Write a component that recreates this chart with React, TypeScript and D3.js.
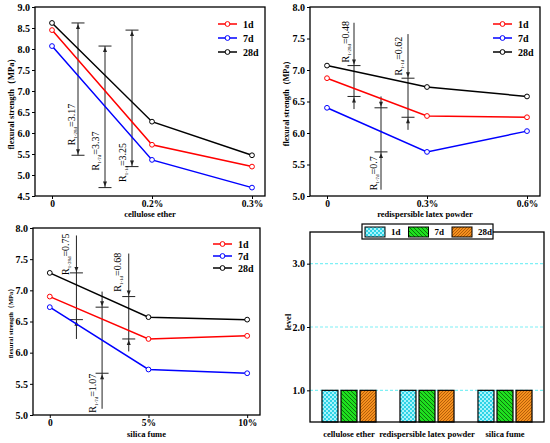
import React, { useEffect, useRef } from "react";
import * as d3 from "d3";

const SERIF = "'Liberation Serif', 'Times New Roman', serif";

const ages = ["1d", "7d", "28d"];
const ageColors = ["#ff0000", "#0000ff", "#000000"];

// cellulose ether panel
const celluloseLabels = ["0", "0.2%", "0.3%"];
const cellulose1d = [8.45, 5.72, 5.2];
const cellulose7d = [8.07, 5.36, 4.7];
const cellulose28d = [8.62, 6.27, 5.47];
const celluloseTicks = [4.5, 5.0, 5.5, 6.0, 6.5, 7.0, 7.5, 8.0, 8.5, 9.0];

// redispersible latex powder panel
const latexLabels = ["0", "0.3%", "0.6%"];
const latex1d = [6.87, 6.27, 6.25];
const latex7d = [6.4, 5.7, 6.03];
const latex28d = [7.07, 6.73, 6.58];

// silica fume panel
const silicaLabels = ["0", "5%", "10%"];
const silica1d = [6.9, 6.22, 6.27];
const silica7d = [6.73, 5.73, 5.67];
const silica28d = [7.28, 6.57, 6.53];

const otherTicks = [5.0, 5.5, 6.0, 6.5, 7.0, 7.5, 8.0];

// range marks: age, position between dosages, extent of the line, label spot
const celluloseRanges = [
  { age: "28d", at: 0.26, ext: [5.47, 8.62], value: "3.17", tx: 0.195, ty: 6.2 },
  { age: "7d", at: 0.53, ext: [4.7, 8.07], value: "3.37", tx: 0.43, ty: 5.57 },
  { age: "1d", at: 0.8, ext: [5.2, 8.45], value: "3.25", tx: 0.7, ty: 5.3 },
];
const latexRanges = [
  { age: "28d", at: 0.27, ext: [6.38, 7.75], value: "0.48", tx: 0.18, ty: 7.45 },
  { age: "7d", at: 0.54, ext: [5.1, 6.58], value: "0.7", tx: 0.46, ty: 5.36 },
  { age: "1d", at: 0.81, ext: [6.05, 7.57], value: "0.62", tx: 0.715, ty: 7.22 },
];
const silicaRanges = [
  { age: "28d", at: 0.27, ext: [6.22, 7.88], value: "0.75", tx: 0.16, ty: 7.58 },
  { age: "7d", at: 0.53, ext: [5.1, 6.98], value: "1.07", tx: 0.43, ty: 5.35 },
  { age: "1d", at: 0.8, ext: [6.02, 7.59], value: "0.68", tx: 0.69, ty: 7.29 },
];

// level bar panel
const levelCategories = ["cellulose ether", "redispersible latex powder", "silica fume"];
const level1d = [1, 1, 1];
const level7d = [1, 1, 1];
const level28d = [1, 1, 1];
const levelTicks = [1.0, 2.0, 3.0];

type Range = { age: string; at: number; ext: number[]; value: string; tx: number; ty: number };

interface LinePanel {
  left: number;
  right: number;
  top: number;
  bottom: number;
  yDomain: [number, number];
  yTicks: number[];
  xLabels: string[];
  series: number[][];
  ranges: Range[];
  arrowsOutside: boolean;
  title: string;
  titleDy: number;
  yLabelX: number;
  yLabelSize: number;
  legTop: number;
  legStep: number;
}

const styleText = (sel: any, size: number, bold = true) =>
  sel
    .attr("font-family", SERIF)
    .attr("font-size", size)
    .attr("font-weight", bold ? "bold" : "normal")
    .attr("fill", "#000");

function drawLinePanel(root: any, p: LinePanel) {
  const g = root.append("g");
  const x = d3.scaleLinear().domain([-0.17, 2.13]).range([p.left, p.right]);
  const y = d3.scaleLinear().domain(p.yDomain).range([p.bottom, p.top]);

  const ya = g
    .append("g")
    .attr("transform", `translate(${p.left},0)`)
    .call(d3.axisLeft(y).tickValues(p.yTicks).tickFormat(d3.format(".1f")).tickSize(3).tickPadding(2));
  ya.select(".domain").remove();
  styleText(ya.selectAll("text"), 10);

  const xa = g
    .append("g")
    .attr("transform", `translate(0,${p.bottom})`)
    .call(
      d3
        .axisBottom(x)
        .tickValues(d3.range(p.xLabels.length))
        .tickFormat((i: any) => p.xLabels[i])
        .tickSize(3)
        .tickPadding(1)
    );
  xa.select(".domain").remove();
  styleText(xa.selectAll("text"), 9.5);

  g.append("rect")
    .attr("x", p.left)
    .attr("y", p.top)
    .attr("width", p.right - p.left)
    .attr("height", p.bottom - p.top)
    .attr("fill", "none")
    .attr("stroke", "#000")
    .attr("stroke-width", 1.3);

  styleText(
    g
      .append("text")
      .attr("x", (p.left + p.right) / 2)
      .attr("y", p.bottom + p.titleDy)
      .attr("text-anchor", "middle")
      .text(p.title),
    8.5
  );

  styleText(
    g
      .append("text")
      .attr("transform", `translate(${p.yLabelX},${(p.top + p.bottom) / 2}) rotate(-90)`)
      .attr("text-anchor", "middle")
      .attr("dy", "0.35em")
      .text("flexural strength（MPa）"),
    p.yLabelSize
  );

  // range marks
  p.ranges.forEach((r) => {
    const vals = p.series[ages.indexOf(r.age)];
    const hi = d3.max(vals) as number;
    const lo = d3.min(vals) as number;
    const cx = x(r.at);
    g.append("line")
      .attr("x1", cx)
      .attr("x2", cx)
      .attr("y1", y(r.ext[1]))
      .attr("y2", y(r.ext[0]))
      .attr("stroke", "#222")
      .attr("stroke-width", 1);
    [hi, lo].forEach((v, k) => {
      const cy = y(v);
      g.append("line")
        .attr("x1", cx - 6.5)
        .attr("x2", cx + 6.5)
        .attr("y1", cy)
        .attr("y2", cy)
        .attr("stroke", "#222")
        .attr("stroke-width", 1);
      // k 0: top cap, 1: bottom cap
      const dir = (k === 0 ? 1 : -1) * (p.arrowsOutside ? -1 : 1);
      const apex = cy + dir * 1;
      const base = cy + dir * 6;
      g.append("path")
        .attr("d", `M${cx},${apex}L${cx - 2},${base}L${cx + 2},${base}Z`)
        .attr("fill", "#222");
    });
    const t = g
      .append("text")
      .attr("transform", `translate(${x(r.tx)},${y(r.ty)}) rotate(-90)`)
      .attr("text-anchor", "middle")
      .attr("dy", "0.35em");
    styleText(t, 10, false);
    t.append("tspan").text("R");
    t.append("tspan").attr("font-size", 5).attr("dy", 2).text(`1-${r.age}`);
    t.append("tspan").attr("dy", -2).text(`=${r.value}`);
  });

  // series
  p.series.forEach((vals, i) => {
    g.append("path")
      .datum(vals)
      .attr("fill", "none")
      .attr("stroke", ageColors[i])
      .attr("stroke-width", 1.5)
      .attr(
        "d",
        d3
          .line<number>()
          .x((_d, j) => x(j))
          .y((d) => y(d))
      );
    g.selectAll(null)
      .data(vals)
      .enter()
      .append("circle")
      .attr("cx", (_d: number, j: number) => x(j))
      .attr("cy", (d: number) => y(d))
      .attr("r", 2.4)
      .attr("fill", "#fff")
      .attr("stroke", ageColors[i])
      .attr("stroke-width", 1);
  });

  // legend
  ages.forEach((a, i) => {
    const ly = p.top + p.legTop + i * p.legStep;
    const lx = p.right - 47;
    g.append("line")
      .attr("x1", lx)
      .attr("x2", lx + 19)
      .attr("y1", ly)
      .attr("y2", ly)
      .attr("stroke", ageColors[i])
      .attr("stroke-width", 1.5);
    g.append("circle")
      .attr("cx", lx + 9.5)
      .attr("cy", ly)
      .attr("r", 2.4)
      .attr("fill", "#fff")
      .attr("stroke", ageColors[i]);
    styleText(
      g
        .append("text")
        .attr("x", lx + 25)
        .attr("y", ly)
        .attr("dy", "0.35em")
        .text(a),
      10
    );
  });
}

function drawLevelPanel(root: any) {
  const left = 310,
    right = 544,
    top = 232,
    bottom = 422;
  const g = root.append("g");
  const defs = root.append("defs");

  const p1 = defs
    .append("pattern")
    .attr("id", "pat1d")
    .attr("patternUnits", "userSpaceOnUse")
    .attr("width", 4)
    .attr("height", 4);
  p1.append("rect").attr("width", 4).attr("height", 4).attr("fill", "#2fd3e6");
  p1.append("rect").attr("width", 2).attr("height", 2).attr("fill", "#a8f4fb");
  p1.append("rect").attr("x", 2).attr("y", 2).attr("width", 2).attr("height", 2).attr("fill", "#a8f4fb");

  const p7 = defs
    .append("pattern")
    .attr("id", "pat7d")
    .attr("patternUnits", "userSpaceOnUse")
    .attr("width", 4)
    .attr("height", 4);
  p7.append("rect").attr("width", 4).attr("height", 4).attr("fill", "#1fe01f");
  p7.append("path").attr("d", "M-1,-1L5,5M-1,3L1,5M3,-1L5,1").attr("stroke", "#0a6a0a").attr("stroke-width", 0.9);

  const p28 = defs
    .append("pattern")
    .attr("id", "pat28d")
    .attr("patternUnits", "userSpaceOnUse")
    .attr("width", 3)
    .attr("height", 3);
  p28.append("rect").attr("width", 3).attr("height", 3).attr("fill", "#f5901f");
  p28.append("path").attr("d", "M-1,4L4,-1M-1,1L1,-1M2,4L4,2").attr("stroke", "#9a4a00").attr("stroke-width", 0.7);

  const fills = ["url(#pat1d)", "url(#pat7d)", "url(#pat28d)"];
  const levels = [level1d, level7d, level28d];

  const x0 = d3.scaleBand<string>().domain(levelCategories).range([left, right]);
  const x1 = d3
    .scaleBand<string>()
    .domain(ages)
    .range([0, x0.bandwidth()])
    .paddingInner(0.16)
    .paddingOuter(0.63);
  const y = d3.scaleLinear().domain([0.5, 3.5]).range([bottom, top]);

  g.selectAll(null)
    .data(levelTicks)
    .enter()
    .append("line")
    .attr("x1", left)
    .attr("x2", right)
    .attr("y1", (d: number) => y(d))
    .attr("y2", (d: number) => y(d))
    .attr("stroke", "#7ff0f5")
    .attr("stroke-width", 1.2)
    .attr("stroke-dasharray", "3,2");

  levelCategories.forEach((c, ci) => {
    ages.forEach((a, ai) => {
      g.append("rect")
        .attr("x", (x0(c) as number) + (x1(a) as number))
        .attr("y", y(levels[ai][ci]))
        .attr("width", x1.bandwidth())
        .attr("height", bottom - y(levels[ai][ci]))
        .attr("fill", fills[ai])
        .attr("stroke", "#000")
        .attr("stroke-width", 1.2);
    });
  });

  const ya = g
    .append("g")
    .attr("transform", `translate(${left},0)`)
    .call(d3.axisLeft(y).tickValues(levelTicks).tickFormat(d3.format(".1f")).tickSize(3).tickPadding(2));
  ya.select(".domain").remove();
  styleText(ya.selectAll("text"), 10);

  const xa = g
    .append("g")
    .attr("transform", `translate(0,${bottom})`)
    .call(d3.axisBottom(x0).tickSize(0).tickPadding(9));
  xa.select(".domain").remove();
  styleText(xa.selectAll("text"), 8.5);

  g.append("rect")
    .attr("x", left)
    .attr("y", top)
    .attr("width", right - left)
    .attr("height", bottom - top)
    .attr("fill", "none")
    .attr("stroke", "#000")
    .attr("stroke-width", 1.3);

  styleText(
    g
      .append("text")
      .attr("transform", `translate(288,322) rotate(-90)`)
      .attr("text-anchor", "middle")
      .attr("dy", "0.35em")
      .text("level"),
    8.5
  );

  // legend
  const lg = g.append("g").attr("transform", "translate(362,224)");
  lg.append("rect")
    .attr("width", 131)
    .attr("height", 15)
    .attr("fill", "#fff")
    .attr("stroke", "#000")
    .attr("stroke-width", 1.2);
  ages.forEach((a, i) => {
    const sx = 3 + i * 43.5;
    lg.append("rect")
      .attr("x", sx)
      .attr("y", 3)
      .attr("width", 20)
      .attr("height", 10)
      .attr("fill", fills[i])
      .attr("stroke", "#000")
      .attr("stroke-width", 1);
    styleText(
      lg
        .append("text")
        .attr("x", sx + 26)
        .attr("y", 8)
        .attr("dy", "0.35em")
        .text(a),
      9
    );
  });
}

const App: React.FC = () => {
  const ref = useRef<SVGSVGElement | null>(null);

  useEffect(() => {
    const svg = d3.select(ref.current);
    svg.selectAll("*").remove();

    drawLinePanel(svg, {
      left: 35,
      right: 265,
      top: 7,
      bottom: 196,
      yDomain: [4.5, 9.0],
      yTicks: celluloseTicks,
      xLabels: celluloseLabels,
      series: [cellulose1d, cellulose7d, cellulose28d],
      ranges: celluloseRanges,
      arrowsOutside: false,
      title: "cellulose ether",
      titleDy: 21,
      yLabelX: 11,
      yLabelSize: 8.5,
      legTop: 17,
      legStep: 14,
    });

    drawLinePanel(svg, {
      left: 310,
      right: 540,
      top: 7,
      bottom: 196,
      yDomain: [5.0, 8.0],
      yTicks: otherTicks,
      xLabels: latexLabels,
      series: [latex1d, latex7d, latex28d],
      ranges: latexRanges,
      arrowsOutside: true,
      title: "redispersible latex powder",
      titleDy: 21,
      yLabelX: 286,
      yLabelSize: 8,
      legTop: 17,
      legStep: 14,
    });

    drawLinePanel(svg, {
      left: 33,
      right: 260,
      top: 228,
      bottom: 415,
      yDomain: [5.0, 8.0],
      yTicks: otherTicks,
      xLabels: silicaLabels,
      series: [silica1d, silica7d, silica28d],
      ranges: silicaRanges,
      arrowsOutside: true,
      title: "silica fume",
      titleDy: 22,
      yLabelX: 11,
      yLabelSize: 6.5,
      legTop: 16,
      legStep: 12,
    });

    drawLevelPanel(svg);
  }, []);

  return (
    <svg
      ref={ref}
      width={550}
      height={443}
      style={{ position: "absolute", left: 0, top: 0, background: "#fff" }}
    />
  );
};

export default App;
